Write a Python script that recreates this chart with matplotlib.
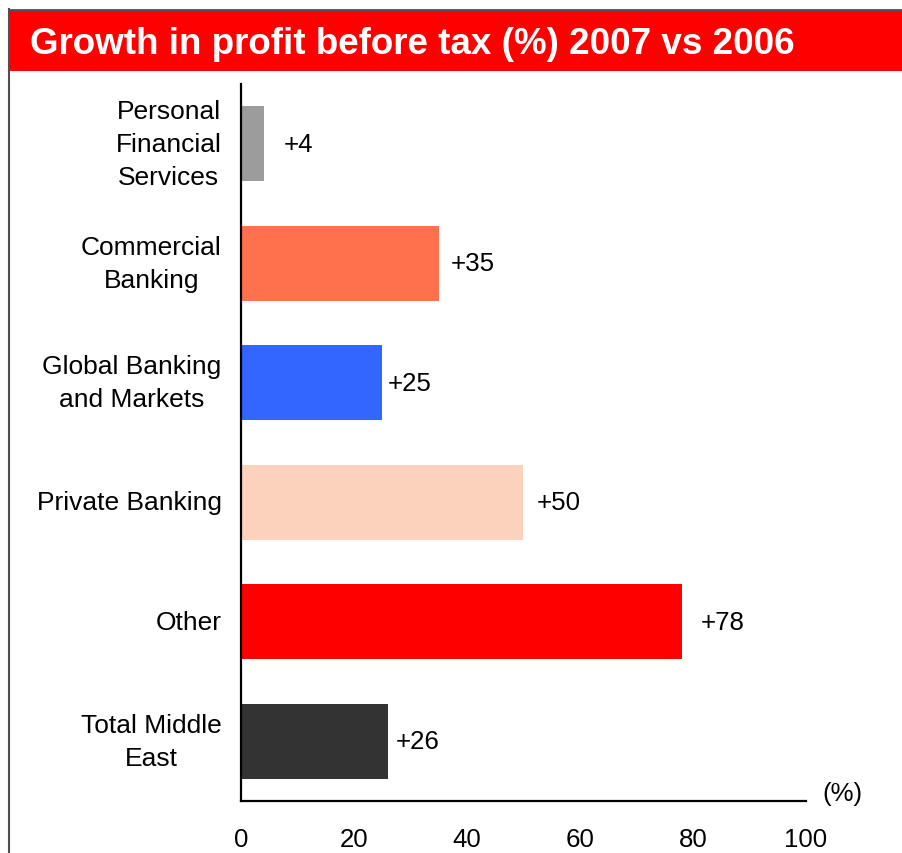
import matplotlib.pyplot as plt
from matplotlib.patches import Rectangle
from matplotlib.lines import Line2D

plt.rcParams["font.family"] = ["Liberation Sans", "DejaVu Sans"]

# ----------------------------
# Data
# ----------------------------
categories = [
    "Personal\nFinancial\nServices",
    "Commercial\nBanking",
    "Global Banking\nand Markets",
    "Private Banking",
    "Other",
    "Total Middle\nEast",
]
growth = [4, 35, 25, 50, 78, 26]
bar_colors = ["#9c9c9c", "#ff704d", "#3366ff", "#fcd2bc", "#ff0000", "#333333"]
# gap between bar end and its label, in pixels
label_gap = [20, 12, 6, 13, 19, 8]
xticks = [0, 20, 40, 60, 80, 100]

W, H = 903, 854
fig = plt.figure(figsize=(W / 100, H / 100), dpi=100)

# header band and frame
fig.patches.append(Rectangle((9 / W, 1 - 72 / H), 1 - 9 / W, 61 / H,
                             transform=fig.transFigure, facecolor="#ff0000",
                             edgecolor="none"))
fig.lines.append(Line2D([9 / W, 1], [1 - 10.5 / H, 1 - 10.5 / H],
                        transform=fig.transFigure, color="#505050", lw=2))
fig.lines.append(Line2D([9.5 / W, 9.5 / W], [0, 1 - 10 / H],
                        transform=fig.transFigure, color="#505050", lw=1.5))
fig.text(30 / W, 1 - 44 / H, "Growth in profit before tax (%) 2007 vs 2006",
         color="white", fontsize=26.5, fontweight="bold", va="center", ha="left")

# ----------------------------
# Bars
# ----------------------------
ax = fig.add_axes([241 / W, 52 / H, 565 / W, 717 / H])
y = list(range(len(categories)))
ax.barh(y, growth, height=0.63, color=bar_colors)

ax.set_xlim(0, 100)
ax.set_ylim(len(categories) - 0.5, -0.5)
ax.set_yticks(y)
ax.set_yticklabels(categories, fontsize=19, multialignment="center",
                   linespacing=1.48, va="center")
ax.set_xticks(xticks)
ax.set_xticklabels([str(t) for t in xticks], fontsize=18.6)
ax.tick_params(axis="both", length=0)
ax.tick_params(axis="x", pad=19)
ax.tick_params(axis="y", pad=14)

for side in ["top", "right"]:
    ax.spines[side].set_visible(False)
for side in ["left", "bottom"]:
    ax.spines[side].set_linewidth(1.6)
    ax.spines[side].set_color("black")

for yi, v, gap in zip(y, growth, label_gap):
    ax.annotate(f"+{v}", (v, yi), xytext=(gap * 0.72, 0),
                textcoords="offset points", ha="left", va="center", fontsize=18.6)

ax.annotate("(%)", (1, 0), xycoords="axes fraction", xytext=(12, 6),
            textcoords="offset points", ha="left", va="center", fontsize=18.6)

fig.savefig("out.png", dpi=100)
